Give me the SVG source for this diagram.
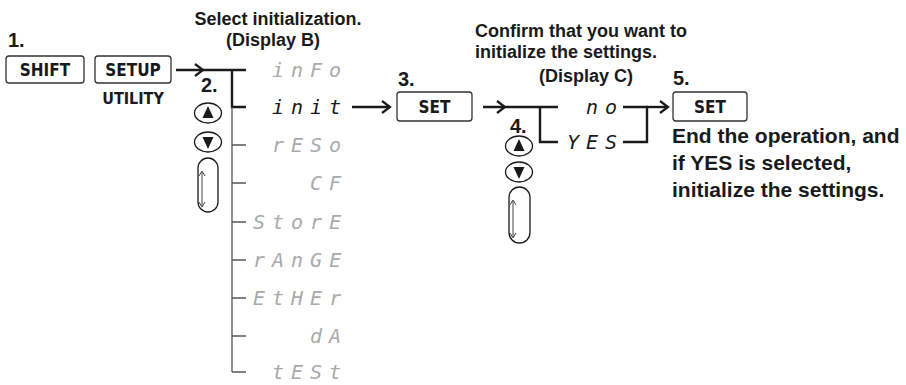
<svg xmlns="http://www.w3.org/2000/svg" width="906" height="385" viewBox="0 0 906 385">
<style>
.lbl{font-family:"Liberation Sans",Arial,sans-serif;font-weight:bold;fill:#1a1a1a}
.hd{font-size:18px}
.t21{font-size:21px}
.num{font-size:20px}
.key{fill:#fff;stroke:#333;stroke-width:1.3}
.kt{font-family:"DejaVu Sans Condensed","DejaVu Sans",sans-serif;font-stretch:condensed;font-weight:bold;font-size:17px;fill:#1a1a1a;text-anchor:middle}
.seg{font-family:"DejaVu Sans Mono",monospace;font-style:oblique;font-size:20px;letter-spacing:7px;fill:#aaaaaa}
.on{fill:#1a1a1a}
.thick{fill:none;stroke:#1a1a1a;stroke-width:2.4}
.thin{fill:none;stroke:#555;stroke-width:1.3}
.head{fill:none;stroke:#1a1a1a;stroke-width:2.2;stroke-linejoin:miter}
.btn{fill:#fff;stroke:#1a1a1a;stroke-width:1.3}
.tri{fill:#1a1a1a}
.pill{fill:#fff;stroke:#1a1a1a;stroke-width:1.3}
.dbl{fill:none;stroke:#444;stroke-width:1}
</style>

<!-- headings -->
<g id="heading-b">
<text class="lbl hd" x="278" y="25" text-anchor="middle">Select initialization.</text>
<text class="lbl hd" x="273" y="46" text-anchor="middle">(Display B)</text>
</g>
<g id="heading-c">
<text class="lbl hd" x="475" y="37">Confirm that you want to</text>
<text class="lbl hd" x="475" y="58">initialize the settings.</text>
<text class="lbl hd" x="586" y="82" text-anchor="middle">(Display C)</text>
</g>

<!-- step 1 -->
<g id="step1">
<text class="lbl num" x="8" y="47">1.</text>
<rect class="key" x="6" y="56" width="78" height="27" rx="3"/>
<text class="kt" x="45" y="76">SHIFT</text>
<rect class="key" x="95" y="56" width="76" height="27" rx="3"/>
<text class="kt" x="133" y="76">SETUP</text>
<text class="kt" x="133" y="104" style="font-size:16px">UTILITY</text>
</g>

<!-- step 2 -->
<g id="step2">
<text class="lbl num" x="201" y="92">2.</text>
<ellipse class="btn" cx="208" cy="113" rx="13.5" ry="10"/>
<path class="tri" d="M208,106 L213.5,118 L202.5,118 Z"/>
<ellipse class="btn" cx="208" cy="142" rx="13.5" ry="10"/>
<path class="tri" d="M208,149 L213.5,137 L202.5,137 Z"/>
<rect class="pill" x="198" y="158" width="20" height="54" rx="10"/>
<path class="dbl" d="M202,172 V206 M199,176 L202,171 L205,176 M199,202 L202,207 L205,202"/>
</g>

<!-- display B -->
<g id="display-b">
<text class="seg" x="272" y="77">inFo</text>
<text class="seg on" x="272" y="114">init</text>
<text class="seg" x="272" y="152">rESo</text>
<text class="seg" x="310" y="190">CF</text>
<text class="seg" x="253" y="229">StorE</text>
<text class="seg" x="253" y="267">rAnGE</text>
<text class="seg" x="253" y="305">EtHEr</text>
<text class="seg" x="310" y="343">dA</text>
<text class="seg" x="272" y="379">tESt</text>
</g>

<!-- step 3 -->
<g id="step3">
<text class="lbl num" x="398" y="86">3.</text>
<rect class="key" x="397" y="92" width="75" height="29" rx="3"/>
<text class="kt" x="434.5" y="113">SET</text>
</g>

<!-- step 4 -->
<g id="step4">
<text class="lbl num" x="510" y="133">4.</text>
<ellipse class="btn" cx="519" cy="146" rx="13.5" ry="10"/>
<path class="tri" d="M519,139 L524.5,151 L513.5,151 Z"/>
<ellipse class="btn" cx="519" cy="172" rx="13.5" ry="10"/>
<path class="tri" d="M519,179 L524.5,167 L513.5,167 Z"/>
<rect class="pill" x="509" y="187" width="21" height="56" rx="10.5"/>
<path class="dbl" d="M513,201 V237 M510,205 L513,200 L516,205 M510,233 L513,238 L516,233"/>
</g>

<!-- display C -->
<g id="display-c">
<text class="seg on" x="586" y="114">no</text>
<text class="seg on" x="567" y="149">YES</text>
</g>

<!-- step 5 -->
<g id="step5">
<text class="lbl num" x="673" y="85">5.</text>
<rect class="key" x="673" y="92" width="74" height="29" rx="3"/>
<text class="kt" x="710" y="113">SET</text>
<text class="lbl t21" x="672" y="143">End the operation, and</text>
<text class="lbl t21" x="672" y="170">if YES is selected,</text>
<text class="lbl t21" x="672" y="197">initialize the settings.</text>
</g>

<!-- connectors -->
<g id="connectors">
<path class="thick" d="M176,70 H246"/>
<path class="head" d="M195,64 L203,70 L195,76"/>
<path class="thick" d="M232,70 V107 H246"/>
<path class="thin" d="M232,107 V372 M232,145 H246 M232,183 H246 M232,222 H246 M232,260 H246 M232,298 H246 M232,336 H246 M232,372 H246"/>
<path class="thick" d="M352,107 H390"/>
<path class="head" d="M382,101 L390,107 L382,113"/>
<path class="thick" d="M483,107 H558"/>
<path class="head" d="M497,101 L505,107 L497,113"/>
<path class="thick" d="M540,107 V142 H558"/>
<path class="thick" d="M623,107 H647 V142 H623"/>
<path class="thick" d="M647,107 H668"/>
<path class="head" d="M660,101 L668,107 L660,113"/>
</g>
</svg>
